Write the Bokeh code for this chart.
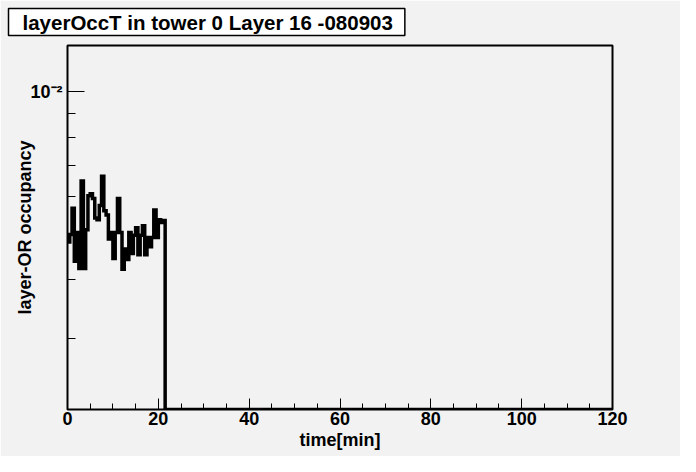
import math
from bokeh.plotting import figure
from bokeh.models import FixedTicker, Title
from bokeh.embed import file_html
from bokeh.resources import INLINE

# ---------------- data ----------------
title_text = "layerOccT in tower 0 Layer 16 -080903"
x_title = "time[min]"
y_title = "layer-OR occupancy"

bin_width = 0.5          # minutes per bin
n_bins = 240             # 0 .. 120 min
# layer-OR occupancy for the filled bins (0 .. 21.5 min); later bins are empty
occupancy_filled = [
    4.81e-3, 4.99e-3, 5.67e-3, 4.38e-3, 5.04e-3, 4.23e-3, 6.48e-3, 4.23e-3,
    5.11e-3, 6.03e-3, 6.09e-3, 5.95e-3, 5.41e-3, 5.36e-3, 5.75e-3, 6.63e-3,
    5.60e-3, 5.49e-3, 4.88e-3, 5.04e-3, 4.44e-3, 5.04e-3, 5.95e-3, 5.04e-3,
    4.21e-3, 4.65e-3, 4.42e-3, 5.04e-3, 4.55e-3, 4.97e-3, 5.16e-3, 4.52e-3,
    4.97e-3, 5.21e-3, 4.52e-3, 4.92e-3, 4.70e-3, 4.92e-3, 5.62e-3, 4.92e-3,
    5.36e-3, 5.29e-3, 5.34e-3,
]
occupancy = occupancy_filled + [0.0] * (n_bins - len(occupancy_filled))

x_major_ticks = [0, 20, 40, 60, 80, 100, 120]
x_minor_ticks = [m for m in range(0, 121, 5) if m % 20 != 0]
y_major_ticks = [1e-2]
y_minor_ticks = [3e-3, 4e-3, 5e-3, 6e-3, 7e-3, 8e-3, 9e-3]
y_tick_labels = {1e-2: "10\u207b\u00b2"}
y_range = (2.126e-3, 1.254e-2)
x_range = (0, 120)

# ---------------- layout ----------------
BG = "#f2f2f2"
FONT = "Liberation Sans"
W, H = 680, 456
FL, FR, FT, FB = 67, 612, 45, 409          # frame edges in canvas pixels
FW, FH = FR - FL, FB - FT

p = figure(
    frame_width=FW, frame_height=FH,
    min_border_left=FL, min_border_right=W - FR, min_border_top=FT, min_border_bottom=H - FB,
    x_range=x_range, y_range=y_range, y_axis_type="log",
    output_backend="svg", toolbar_location=None,
)
p.border_fill_color = BG
p.background_fill_color = BG
p.outline_line_color = "black"
p.outline_line_width = 2
p.xgrid.visible = False
p.ygrid.visible = False

# x axis
xa = p.xaxis[0]
xa.ticker = FixedTicker(ticks=x_major_ticks, minor_ticks=x_minor_ticks)
xa.major_tick_in = 11
xa.major_tick_out = 0
xa.minor_tick_in = 6
xa.minor_tick_out = 0
xa.major_tick_line_color = "black"
xa.minor_tick_line_color = "black"
xa.axis_line_color = "black"
xa.major_label_text_font = FONT
xa.major_label_text_font_style = "bold"
xa.major_label_text_font_size = "18px"
xa.major_label_text_color = "black"
xa.major_label_standoff = 2

# y axis
ya = p.yaxis[0]
ya.ticker = FixedTicker(ticks=y_major_ticks, minor_ticks=y_minor_ticks)
ya.major_label_overrides = y_tick_labels
ya.major_tick_in = 17
ya.major_tick_out = 0
ya.minor_tick_in = 8
ya.minor_tick_out = 0
ya.major_tick_line_color = "black"
ya.minor_tick_line_color = "black"
ya.axis_line_color = "black"
ya.major_label_text_font = FONT
ya.major_label_text_font_style = "bold"
ya.major_label_text_font_size = "18px"
ya.major_label_text_color = "black"
ya.major_label_standoff = 5

# histogram drawn as a step outline
xs, ys = [], []
for i, v in enumerate(occupancy):
    left = x_range[0] + i * bin_width
    right = left + bin_width
    yv = v if v > 0 else y_range[0]
    xs += [left, right]
    ys += [yv, yv]
p.line(xs, ys, line_width=3.5, line_color="black", line_join="miter")

# axis titles
p.add_layout(Title(text=x_title, align="center", text_font=FONT, text_font_style="bold",
                   text_font_size="18px", text_color="black", standoff=0), "below")
p.add_layout(Title(text=y_title, align="center", text_font=FONT, text_font_style="bold",
                   text_font_size="18px", text_color="black", standoff=-14), "left")

# main title box
p.title.text = title_text
p.title.align = "left"
p.title.vertical_align = "top"
p.title.offset = -59
p.title.standoff = 16
p.title.text_font = FONT
p.title.text_font_style = "bold"
p.title.text_font_size = "20.5px"
p.title.text_color = "black"
p.title.background_fill_color = "white"
p.title.border_line_color = "black"
p.title.border_line_width = 1.5
p.title.padding = dict(left=14, right=12, top=2, bottom=2)

open("out.html", "w").write(file_html(p, INLINE))
